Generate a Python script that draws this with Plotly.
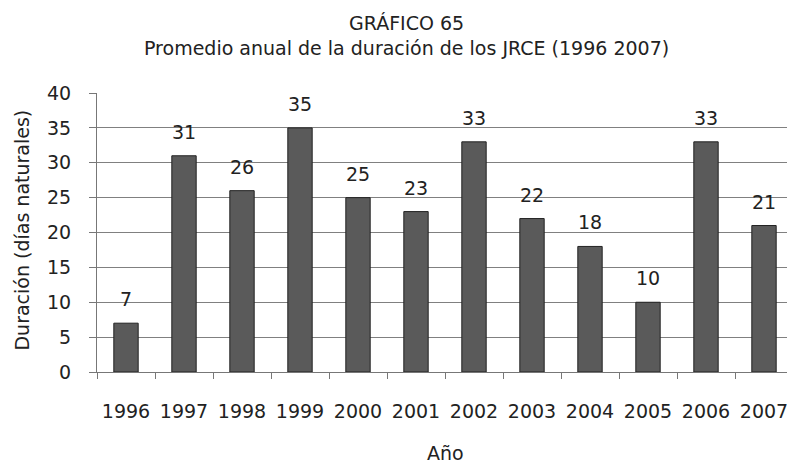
import plotly.graph_objects as go

years = ["1996", "1997", "1998", "1999", "2000", "2001",
         "2002", "2003", "2004", "2005", "2006", "2007"]
duracion = [7, 31, 26, 35, 25, 23, 33, 22, 18, 10, 33, 21]

title_1 = "GRÁFICO 65"
title_2 = "Promedio anual de la duración de los JRCE (1996 2007)"
y_title = "Duración (días naturales)"
x_title = "Año"

font_family = "DejaVu Sans, Open Sans, sans-serif"
txt = "#222"
fs = 19

fig = go.Figure()

fig.add_trace(go.Bar(
    x=years,
    y=duracion,
    marker=dict(color="#5a5a5a", line=dict(color="#222", width=1)),
    width=0.42,
))

# value labels above bars (category index, year strings look numeric to plotly)
for i, v in enumerate(duracion):
    fig.add_annotation(x=i, y=v, text=str(v), showarrow=False,
                       yanchor="bottom", yshift=11,
                       font=dict(size=fs, color=txt))

# two line title, sits a bit left of the plot centre
fig.add_annotation(text=title_1, xref="paper", yref="paper", x=0.445, y=1.251,
                   showarrow=False, yanchor="middle",
                   font=dict(size=fs, color=txt))
fig.add_annotation(text=title_2, xref="paper", yref="paper", x=0.445, y=1.161,
                   showarrow=False, yanchor="middle",
                   font=dict(size=fs, color=txt))

# axis titles
fig.add_annotation(text=x_title, xref="paper", yref="paper", x=0.5, y=-0.29,
                   showarrow=False, yanchor="middle",
                   font=dict(size=fs, color=txt))
fig.add_annotation(text=y_title, xref="paper", yref="paper", x=-0.108, y=0.51,
                   showarrow=False, xanchor="center", yanchor="middle",
                   textangle=-90, font=dict(size=fs, color=txt))

# page body adds an 8px offset, margins compensate for it
fig.update_layout(
    width=795,
    height=464,
    margin=dict(l=89, r=10, t=85, b=100, autoexpand=False),
    paper_bgcolor="white",
    plot_bgcolor="white",
    font=dict(family=font_family, size=fs, color=txt),
    showlegend=False,
)

fig.update_xaxes(
    type="category",
    range=[-0.5, len(years) - 0.5],
    automargin=False,
    showline=True, linecolor="#777", linewidth=1,
    ticks="outside", ticklen=6, tickcolor="#777",
    tickson="boundaries",
    ticklabelstandoff=22,
    showgrid=False,
    tickfont=dict(size=fs),
)

fig.update_yaxes(
    automargin=False,
    range=[0, 40],
    dtick=5,
    showline=True, linecolor="#777", linewidth=1,
    ticks="outside", ticklen=7, tickcolor="#777",
    ticklabelstandoff=14,
    showgrid=True, gridcolor="#808080", gridwidth=1,
    zeroline=False,
    tickfont=dict(size=fs),
)

fig.write_html("out.html")
